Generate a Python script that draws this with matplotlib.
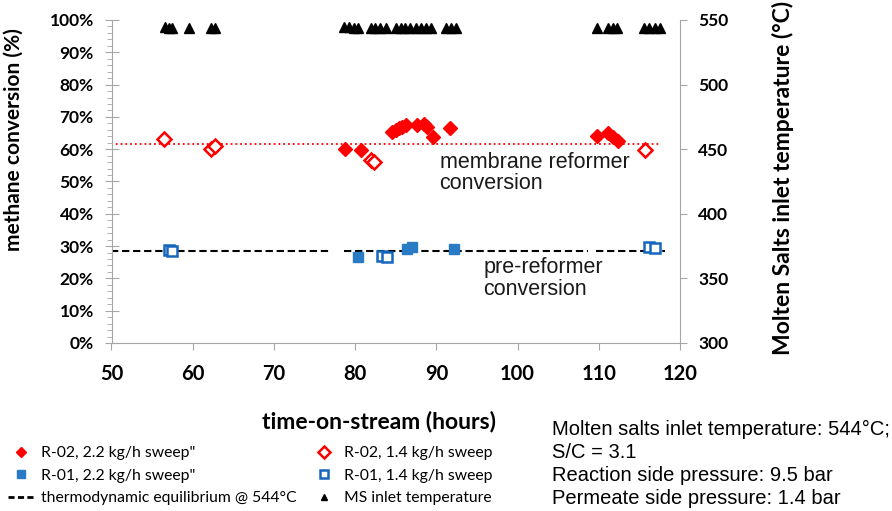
import matplotlib.pyplot as plt
import numpy as np
from matplotlib.ticker import AutoMinorLocator, FuncFormatter
from matplotlib.lines import Line2D

# R-02, 2.2 kg/h sweep
r02_22_t = [78.8, 80.7, 84.6, 85.0, 85.4, 85.8, 86.3, 87.6, 88.5, 88.8, 89.6, 91.7,
            109.8, 111.1, 111.8, 112.4]
r02_22_c = [60.1, 59.7, 65.4, 66.0, 66.5, 67.0, 67.4, 67.5, 67.8, 66.8, 63.7, 66.5,
            64.1, 65.1, 63.9, 62.6]
# R-02, 1.4 kg/h sweep
r02_14_t = [56.5, 62.3, 62.7, 81.9, 82.3, 115.7]
r02_14_c = [63.1, 60.2, 61.0, 56.7, 56.0, 59.8]
# R-01, 2.2 kg/h sweep
r01_22_t = [80.3, 86.4, 87.0, 92.2]
r01_22_c = [26.5, 29.0, 29.8, 29.2]
# R-01, 1.4 kg/h sweep
r01_14_t = [57.1, 57.5, 83.3, 83.9, 116.2, 116.9]
r01_14_c = [28.8, 28.6, 26.8, 26.7, 29.6, 29.3]

# molten salts inlet temperature
ms_t = [56.6, 57.1, 57.5, 59.6, 62.2, 62.7,
        78.6, 79.2, 79.8, 80.4, 81.9, 82.5, 83.1, 83.8,
        85.0, 85.6, 86.2, 86.8, 87.5, 88.1, 88.7, 89.3,
        91.2, 91.8, 92.4, 109.8, 111.1, 111.7, 112.3,
        115.6, 116.2, 116.9, 117.5]
ms_T = [544.2, 544.0, 543.8, 544.0, 544.1, 544.1,
        544.2, 544.2, 544.0, 544.1, 543.7, 543.6, 543.8, 543.9,
        543.9, 544.1, 544.1, 543.9, 544.1, 544.0, 544.0, 544.1,
        543.9, 543.9, 543.9, 544.0, 544.0, 543.9, 544.0,
        543.9, 543.8, 543.9, 544.0]

# thermodynamic equilibrium @ 544 C (pre-reformer) and membrane reformer average
eq_t = [50.0, 77.0, np.nan, 78.6, 108.7, np.nan, 109.7, 118.2]
eq_c = [28.5, 28.5, np.nan, 28.5, 28.5, np.nan, 28.5, 28.5]
mr_t = [50.0, 117.7]
mr_c = [61.5, 61.5]

red = '#ff0000'
blue = '#2a7bc6'
blue_e = '#1467bd'
grey = '#a6a6a6'

fig = plt.figure(figsize=(8.92, 5.11), dpi=100)
ax = fig.add_axes([0.125, 0.3288, 0.6373, 0.6321])
ax2 = ax.twinx()

ax.plot(mr_t, mr_c, ':', color=red, lw=1.3)
ax.plot(eq_t, eq_c, '--', color='black', lw=1.5, dashes=(3.5, 1.8))
ax.plot(r02_22_t, r02_22_c, 'D', color=red, ms=7, mec=red, ls='none')
ax.plot(r02_14_t, r02_14_c, 'D', mfc='white', mec=red, mew=1.8, ms=7, ls='none')
ax.plot(r01_22_t, r01_22_c, 's', color=blue, ms=7, ls='none')
ax.plot(r01_14_t, r01_14_c, 's', mfc='white', mec=blue_e, mew=1.8, ms=7, ls='none')
ax2.plot(ms_t, ms_T, '^', color='black', ms=6.5, ls='none')

ax.set_xlim(50, 120)
ax.set_ylim(0, 100)
ax2.set_ylim(300, 550)
ax.set_xticks(range(50, 121, 10))
ax.set_yticks(range(0, 101, 10))
ax2.set_yticks(range(300, 551, 50))
ax.yaxis.set_minor_locator(AutoMinorLocator(5))
ax.yaxis.set_major_formatter(FuncFormatter(lambda v, p: '%d%%' % v))

for a in (ax, ax2):
    a.spines['top'].set_visible(False)
    for s in a.spines.values():
        s.set_color(grey)
ax2.spines['left'].set_visible(False)
ax2.spines['bottom'].set_visible(False)
ax.spines['right'].set_visible(False)

tick_font = {'family': 'Lato', 'weight': 'bold'}
ax.tick_params(axis='y', which='major', direction='inout', length=9.5, color=grey, pad=8)
ax.tick_params(axis='y', which='minor', direction='out', length=3.5, color=grey)
ax.tick_params(axis='x', direction='out', length=5, color=grey, pad=10)
ax2.tick_params(axis='y', direction='out', length=5, color=grey, pad=8)
for lab in ax.get_yticklabels() + ax2.get_yticklabels():
    lab.set_fontfamily('Lato')
    lab.set_fontweight('bold')
    lab.set_fontsize(12.5)
for lab in ax.get_xticklabels():
    lab.set_fontfamily('Lato')
    lab.set_fontweight('bold')
    lab.set_fontsize(14.5)

ax.set_xlabel('time-on-stream (hours)', fontsize=16.5, **tick_font)
ax.xaxis.set_label_coords(0.47, -0.208)
ax.set_ylabel('methane conversion (%)', fontsize=15, **tick_font)
ax.yaxis.set_label_coords(-0.155, 0.63)
ax2.set_ylabel('Molten Salts inlet temperature (°C)', fontsize=16.5, rotation=90, **tick_font)
ax2.yaxis.set_label_coords(1.162, 0.51)

ax.text(90.4, 52.6, 'membrane reformer\nconversion', fontsize=15.5, family='Liberation Sans',
        color='#1a1a1a', ha='left', va='center', linespacing=1.05)
ax.text(95.8, 20.0, 'pre-reformer\nconversion', fontsize=15.5, family='Liberation Sans',
        color='#1a1a1a', ha='left', va='center', linespacing=1.05)

fig.text(552 / 892, 1 - 464 / 511,
         'Molten salts inlet temperature: 544°C;\nS/C = 3.1\n'
         'Reaction side pressure: 9.5 bar\nPermeate side pressure: 1.4 bar',
         fontsize=14.5, family='Liberation Sans', ha='left', va='center', linespacing=1.27)

# legend, two columns
h1 = [Line2D([], [], marker='D', color=red, ls='none', ms=5),
      Line2D([], [], marker='s', color=blue, ls='none', ms=6),
      Line2D([], [], color='black', ls='--', lw=2, dashes=(2.2, 1.2))]
l1 = ['R-02, 2.2 kg/h sweep"', 'R-01, 2.2 kg/h sweep"', 'thermodynamic equilibrium @ 544°C']
h2 = [Line2D([], [], marker='D', mfc='white', mec=red, mew=1.8, ls='none', ms=6),
      Line2D([], [], marker='s', mfc='white', mec=blue_e, mew=1.8, ls='none', ms=6),
      Line2D([], [], marker='^', color='black', ls='none', ms=5)]
l2 = ['R-02, 1.4 kg/h sweep', 'R-01, 1.4 kg/h sweep', 'MS inlet temperature']
leg_kw = dict(frameon=False, prop={'family': 'Lato', 'size': 11.3}, handlelength=1.6,
              handletextpad=0.5, labelspacing=0.55, borderpad=0, borderaxespad=0,
              loc='upper left')
fig.legend(h1, l1, bbox_to_anchor=(8 / 892, 1 - 446 / 511), **leg_kw)
fig.legend(h2, l2, bbox_to_anchor=(311 / 892, 1 - 446 / 511), **leg_kw)

fig.savefig('out.png', dpi=100)
